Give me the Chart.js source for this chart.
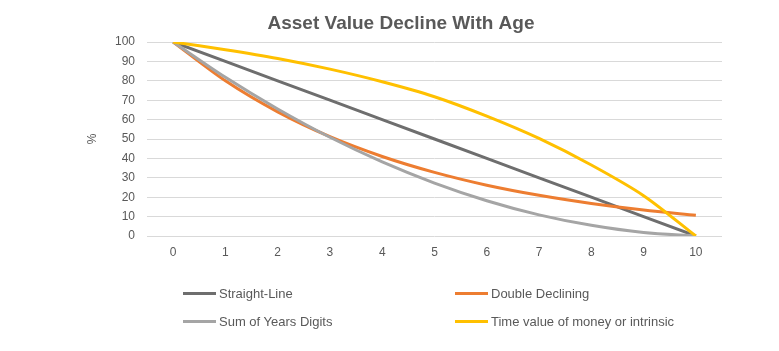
<!DOCTYPE html>
<html><head><meta charset="utf-8">
<script src="https://cdn.jsdelivr.net/npm/chart.js@4/dist/chart.umd.min.js"></script>
<style>
html,body{margin:0;padding:0;background:#fff;}
#wrap{position:relative;width:779px;height:351px;}
#legend{position:absolute;left:0;top:0;width:779px;height:351px;pointer-events:none;font-family:"Liberation Sans",Arial,sans-serif;font-size:13px;color:#595959;}
.item{position:absolute;display:flex;align-items:center;white-space:nowrap;}
.swatch{width:33px;height:3px;margin-right:3px;}
</style></head><body>
<div id="wrap"><canvas id="c" width="779" height="351"></canvas><div id="legend"></div></div>
<script>
const years = ['0','1','2','3','4','5','6','7','8','9','10'];
const straightLine = [100, 90, 80, 70, 60, 50, 40, 30, 20, 10, 0];
const doubleDeclining = [100, 80, 64, 51.2, 41, 32.8, 26.2, 21, 16.8, 13.4, 10.7];
const sumOfYearsDigits = [100, 81.8, 65.5, 50.9, 38.2, 27.3, 18.2, 10.9, 5.5, 1.8, 0];
const timeValue = [100, 96, 91.5, 86, 79.5, 71.8, 61.8, 50.3, 36.6, 20.8, 0];
const seriesNames = ['Straight-Line', 'Double Declining', 'Sum of Years Digits', 'Time value of money or intrinsic'];
const yTicks = [0,10,20,30,40,50,60,70,80,90,100];

const colors = ['#6e6e6e', '#ed7d31', '#a5a5a5', '#ffc000'];
const seriesData = [straightLine, doubleDeclining, sumOfYearsDigits, timeValue];
const font = "'Liberation Sans', Arial, sans-serif";

const datasets = seriesData.map((d,i)=>({
  label: seriesNames[i], data: d, borderColor: colors[i], backgroundColor: colors[i],
  borderWidth: 3, pointRadius: 0, tension: i===0 ? 0 : 0.3, fill:false, order: 3-i
}));

new Chart(document.getElementById('c'), {
  type: 'line',
  data: { labels: years, datasets },
  options: {
    responsive: false, animation: false,
    layout: { padding: { top: 4, left: 80, right: 57, bottom: 0 } },
    plugins: {
      legend: { display: false },
      tooltip: { enabled: false },
      title: { display: true, text: 'Asset Value Decline With Age', color: '#595959',
        font: { family: font, size: 19, weight: 'bold' }, padding: { top: 8, bottom: 7.2 } }
    },
    scales: {
      x: {
        offset: true,
        grid: { display: false, drawTicks: false },
        border: { display: false },
        ticks: { color: '#595959', font: { family: font, size: 12 }, padding: 9, maxRotation: 0 },
        afterFit: s => { s.height = 115; }
      },
      y: {
        min: 0, max: 100,
        afterBuildTicks: s => { s.ticks = yTicks.map(v=>({value:v})); },
        grid: { color: '#d9d9d9', lineWidth: 1, drawTicks: false },
        border: { display: false },
        ticks: { color: '#595959', font: { family: font, size: 12 }, padding: 12 },
        title: { display: true, text: '%', color: '#595959', font: { family: font, size: 12 }, padding: 5 },
        afterFit: s => { s.width = 67; }
      }
    }
  }
});

const pos = [[183,293],[455,293],[183,321],[455,321]];
const leg = document.getElementById('legend');
seriesNames.forEach((n,i)=>{
  const d = document.createElement('div'); d.className='item';
  d.style.left = pos[i][0]+'px'; d.style.top = (pos[i][1]-8)+'px'; d.style.height='16px';
  const sw = document.createElement('span'); sw.className='swatch'; sw.style.background = colors[i];
  const t = document.createElement('span'); t.textContent = n;
  d.appendChild(sw); d.appendChild(t); leg.appendChild(d);
});
</script>
</body></html>
